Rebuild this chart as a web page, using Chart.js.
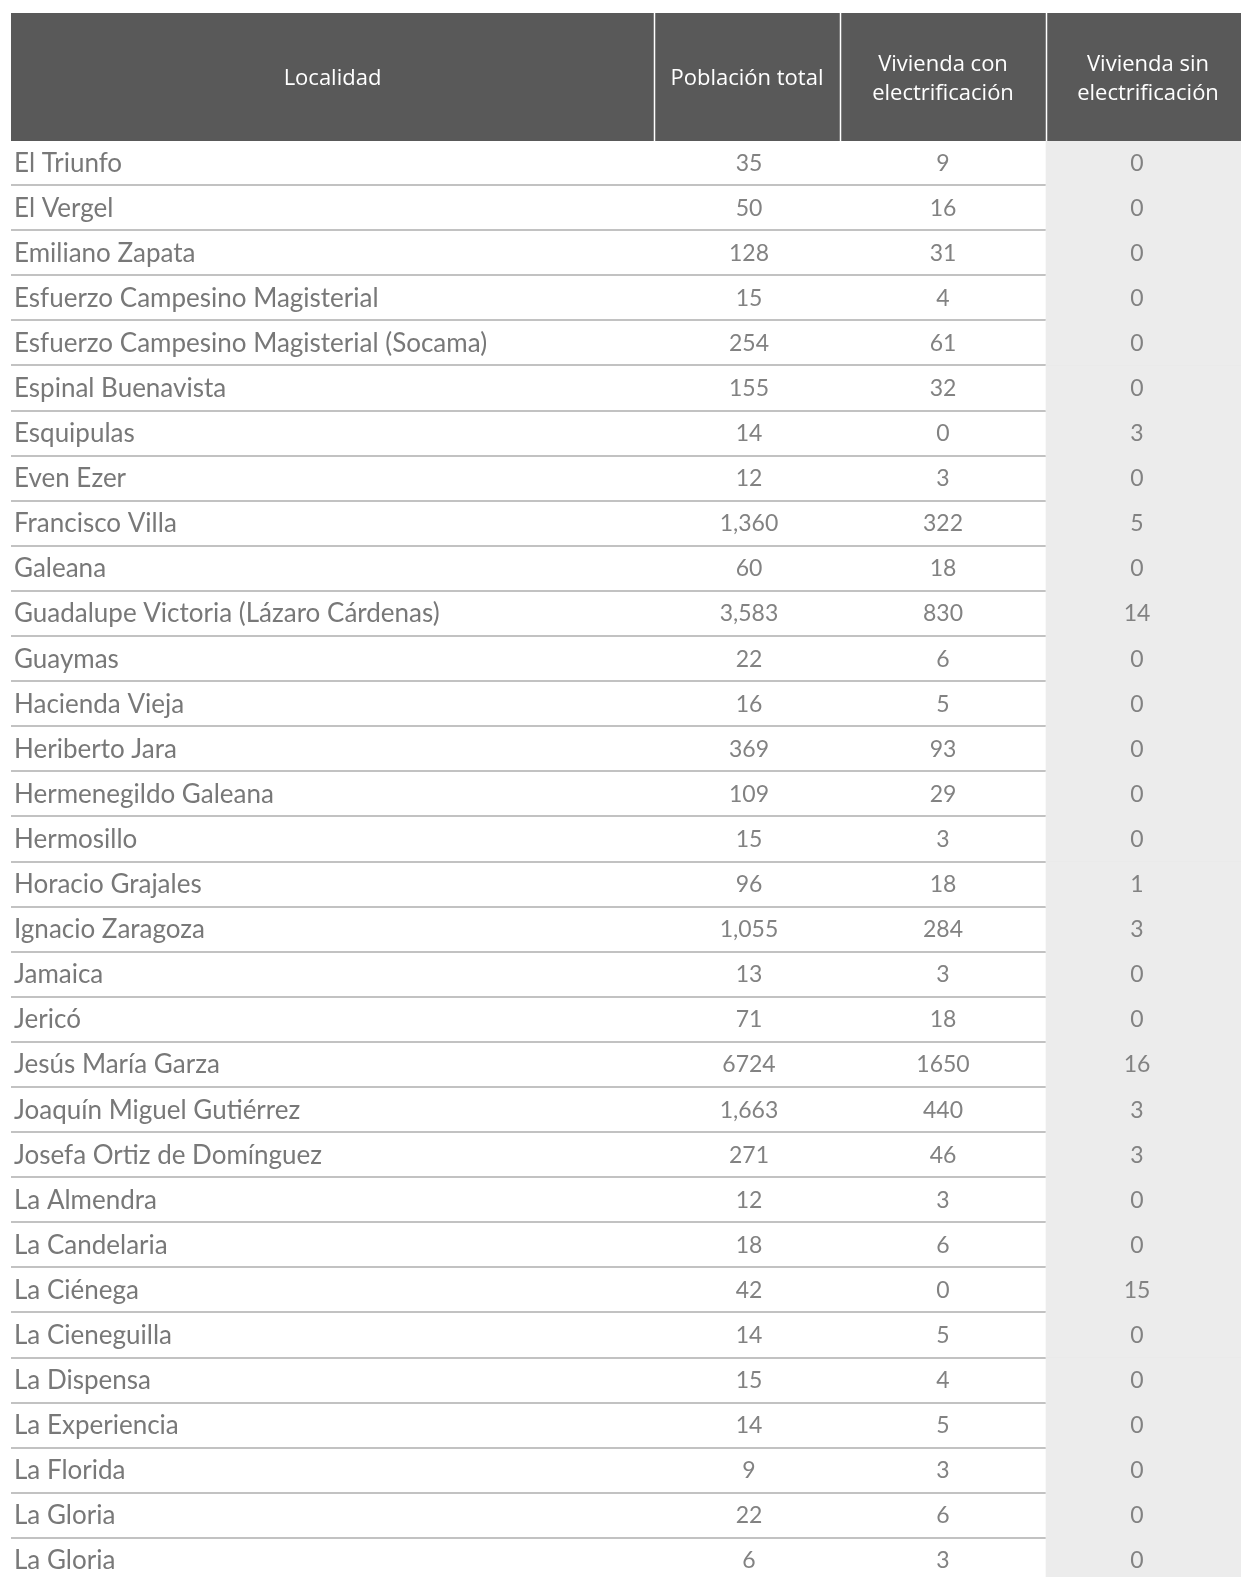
<!DOCTYPE html>
<html lang="es">
<head>
<meta charset="utf-8">
<script src="https://cdn.jsdelivr.net/npm/chart.js@4.4.1/dist/chart.umd.min.js"></script>
<style>
    html, body { margin: 0; padding: 0; background: #fff; overflow: hidden; }
    #wrap { position: absolute; left: 0; top: 0; width: 1260px; height: 1600px; }
</style>
</head>
<body>
<div id="wrap"><canvas id="tablaChart" width="1260" height="1600"></canvas></div>
<script>
// ===================================
// DATOS DE LA TABLA
// ===================================

const localidades = [
    'El Triunfo', 'El Vergel', 'Emiliano Zapata', 'Esfuerzo Campesino Magisterial',
    'Esfuerzo Campesino Magisterial (Socama)', 'Espinal Buenavista', 'Esquipulas', 'Even Ezer',
    'Francisco Villa', 'Galeana', 'Guadalupe Victoria (Lázaro Cárdenas)', 'Guaymas',
    'Hacienda Vieja', 'Heriberto Jara', 'Hermenegildo Galeana', 'Hermosillo',
    'Horacio Grajales', 'Ignacio Zaragoza', 'Jamaica', 'Jericó',
    'Jesús María Garza', 'Joaquín Miguel Gutiérrez', 'Josefa Ortiz de Domínguez', 'La Almendra',
    'La Candelaria', 'La Ciénega', 'La Cieneguilla', 'La Dispensa',
    'La Experiencia', 'La Florida', 'La Gloria', 'La Gloria'
];

const poblacionTotal = [
    35, 50, 128, 15, 254, 155, 14, 12,
    1360, 60, 3583, 22, 16, 369, 109, 15,
    96, 1055, 13, 71, 6724, 1663, 271, 12,
    18, 42, 14, 15, 14, 9, 22, 6
];

const viviendaCon = [
    9, 16, 31, 4, 61, 32, 0, 3,
    322, 18, 830, 6, 5, 93, 29, 3,
    18, 284, 3, 18, 1650, 440, 46, 3,
    6, 0, 5, 4, 5, 3, 6, 3
];

const viviendaSin = [
    0, 0, 0, 0, 0, 0, 3, 0,
    5, 0, 14, 0, 0, 0, 0, 0,
    1, 3, 0, 0, 16, 3, 3, 0,
    0, 15, 0, 0, 0, 0, 0, 0
];

const encabezados = [
    ['Localidad'],
    ['Población total'],
    ['Vivienda con', 'electrificación'],
    ['Vivienda sin', 'electrificación']
];

// filas que en el original aparecen sin separador de miles
const sinSeparador = ['Jesús María Garza'];

// ===================================
// DISEÑO
// ===================================

const bordesColumnas = [0, 643, 829, 1035, 1239];   // límites de columna en unidades del eje x
const centrosNumeros = [738, 932, 1126];            // centro del texto de cada columna numérica
const HEADER_TOP = 13;
const HEADER_BOTTOM = 141;
const FONT_BODY = 'Lato, "Open Sans", sans-serif';
const FONT_HEAD = '"Open Sans", "Noto Sans", sans-serif';
const TEXT_COLOR = '#787878';
const NUM_COLOR = '#828282';

function formatNumber(value, row) {
    if (sinSeparador.includes(localidades[row])) return String(value);
    return value.toLocaleString('en-US');
}

/**
 * Plugin: encabezado gris y textos de las celdas
 */
const tablePlugin = {
    id: 'tablePlugin',
    afterDraw(chart) {
        const { ctx, scales } = chart;
        const x = scales.x;
        const y = scales.y;

        ctx.save();

        // textos de las filas
        ctx.textBaseline = 'alphabetic';
        localidades.forEach((nombre, i) => {
            const cy = y.getPixelForValue(i);
            ctx.fillStyle = TEXT_COLOR;
            ctx.font = '26px ' + FONT_BODY;
            ctx.textAlign = 'left';
            ctx.fillText(nombre, x.getPixelForValue(bordesColumnas[0]) + 3, cy + 9);

            ctx.fillStyle = NUM_COLOR;
            ctx.font = '23px ' + FONT_BODY;
            ctx.textAlign = 'center';
            ctx.fillText(formatNumber(poblacionTotal[i], i), x.getPixelForValue(centrosNumeros[0]), cy + 8);
            ctx.fillText(formatNumber(viviendaCon[i], i), x.getPixelForValue(centrosNumeros[1]), cy + 8);
            ctx.fillText(formatNumber(viviendaSin[i], i), x.getPixelForValue(centrosNumeros[2]), cy + 8);
        });

        // encabezado
        const left = x.getPixelForValue(bordesColumnas[0]);
        const right = chart.width;
        ctx.fillStyle = '#595959';
        ctx.fillRect(left, HEADER_TOP, right - left, HEADER_BOTTOM - HEADER_TOP);

        ctx.strokeStyle = '#ffffff';
        ctx.lineWidth = 1.5;
        for (let c = 1; c < bordesColumnas.length - 1; c++) {
            const px = Math.round(x.getPixelForValue(bordesColumnas[c])) + 0.5;
            ctx.beginPath();
            ctx.moveTo(px, HEADER_TOP);
            ctx.lineTo(px, HEADER_BOTTOM);
            ctx.stroke();
        }

        ctx.fillStyle = '#ffffff';
        ctx.font = '22px ' + FONT_HEAD;
        ctx.textAlign = 'center';
        ctx.textBaseline = 'middle';
        const midY = (HEADER_TOP + HEADER_BOTTOM) / 2 + 2;
        encabezados.forEach((lineas, c) => {
            const cx = (x.getPixelForValue(bordesColumnas[c]) + x.getPixelForValue(bordesColumnas[c + 1])) / 2;
            const lineHeight = 29;
            const startY = midY - (lineas.length - 1) * lineHeight / 2;
            lineas.forEach((texto, k) => ctx.fillText(texto, cx, startY + k * lineHeight));
        });

        ctx.restore();
    }
};

// ===================================
// GRÁFICO
// ===================================

document.addEventListener('DOMContentLoaded', () => {
    const ctx = document.getElementById('tablaChart');

    new Chart(ctx, {
        type: 'bar',
        data: {
            labels: localidades,
            datasets: [{
                label: 'Vivienda sin electrificación',
                // franja gris de la última columna
                data: localidades.map(() => [bordesColumnas[3], bordesColumnas[4]]),
                backgroundColor: '#ececec',
                borderWidth: 0,
                barPercentage: 1,
                categoryPercentage: 1
            }]
        },
        options: {
            indexAxis: 'y',
            responsive: false,
            animation: false,
            devicePixelRatio: 1,
            layout: {
                padding: { left: 11, right: 10, top: 140, bottom: 17 }
            },
            plugins: {
                legend: { display: false },
                tooltip: { enabled: false }
            },
            scales: {
                x: {
                    type: 'linear',
                    min: bordesColumnas[0],
                    max: bordesColumnas[bordesColumnas.length - 1],
                    display: false
                },
                y: {
                    z: 1,
                    offset: true,
                    border: { display: false },
                    ticks: { display: false },
                    grid: {
                        offset: true,
                        drawTicks: false,
                        color: '#c2c2c2',
                        lineWidth: 2
                    }
                }
            }
        },
        plugins: [tablePlugin]
    });
});
</script>
</body>
</html>
